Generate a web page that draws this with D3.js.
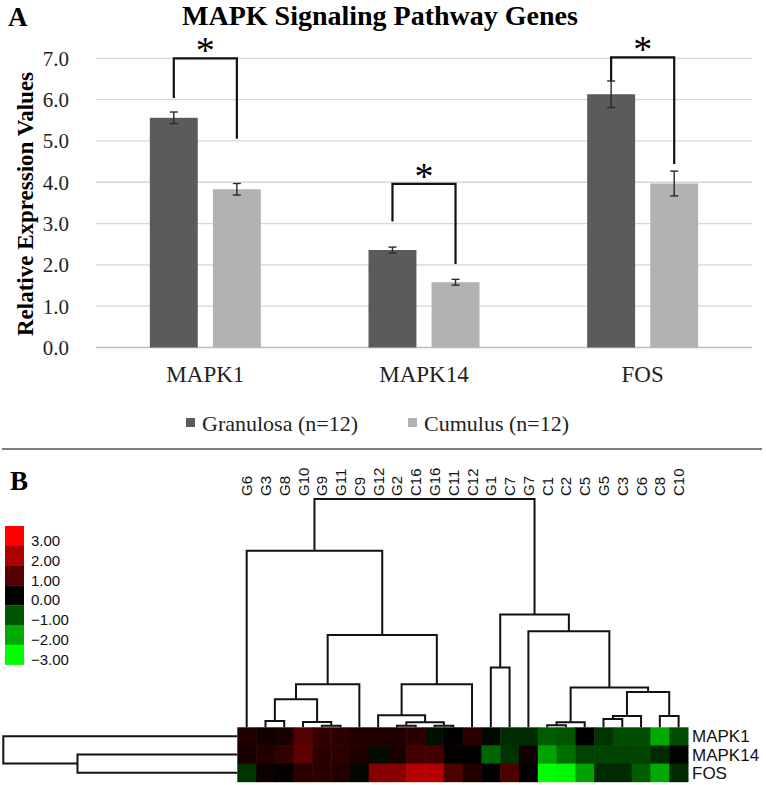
<!DOCTYPE html>
<html>
<head>
<meta charset="utf-8">
<script src="https://cdn.jsdelivr.net/npm/d3@7"></script>
<style>
  body { margin: 0; background: #fff; }
  svg { display: block; }
</style>
</head>
<body>
<svg id="chart"></svg>
<script>
// ---- panel A data ----
var genes = ["MAPK1", "MAPK14", "FOS"];
var groups = ["Granulosa (n=12)", "Cumulus (n=12)"];
var granulosa = [5.56, 2.36, 6.13];
var granulosaErr = [0.14, 0.07, 0.32];
var cumulus = [3.83, 1.58, 3.97];
var cumulusErr = [0.14, 0.07, 0.30];
var yTicks = [0, 1, 2, 3, 4, 5, 6, 7];
// significance brackets (value units)
var bracketTop = [7.0, 3.96, 7.02];
var bracketLeft = [6.04, 3.05, 6.45];
var bracketRight = [5.05, 2.02, 4.44];

// ---- panel B data ----
var samples = ["G6", "G3", "G8", "G10", "G9", "G11", "C9", "G12", "G2", "C16", "G16", "C11",
               "C12", "G1", "C7", "G7", "C1", "C2", "C5", "G5", "C3", "C6", "C8", "C10"];
var rowGenes = ["MAPK1", "MAPK14", "FOS"];
var heatMAPK1 = [0.4, 0.2, 0.3, 1.0, 0.6, 0.5, 0.4, 0.4, 0.4, 0.5, -0.2, 0.0,
                 0.5, -0.1, -0.5, -0.5, -1.1, -1.0, 0.0, -0.6, -0.9, -0.9, -2.0, -0.9];
var heatMAPK14 = [0.3, 0.4, 0.6, 1.1, 0.5, 0.5, 0.35, -0.15, 0.3, 0.8, 0.8, 0.05,
                  0.0, -1.2, -0.6, 0.2, -1.9, -1.3, -0.8, -0.8, -0.8, -0.8, -0.5, -0.05];
var heatFOS = [-0.6, 0.15, 0.05, 0.5, 0.5, 0.4, -0.1, 1.6, 1.6, 2.1, 2.1, 0.9,
               0.4, 0.0, 0.9, 0.0, -3.0, -2.9, -1.9, -0.5, -0.5, -1.1, -2.0, -0.5];
var legendValues = [3, 2, 1, 0, -1, -2, -3];
// hierarchical clustering merges: [left, right, height]; "#n" = earlier merge n
var colMerges = [
  ["G9", "G11", 0.007], ["G2", "C16", 0.007], ["G16", "C11", 0.007], ["C1", "C2", 0.009],
  ["G10", "#0", 0.023], ["#1", "#2", 0.022], ["G3", "G8", 0.028], ["#3", "C5", 0.022],
  ["G5", "C3", 0.036], ["#8", "C6", 0.05], ["C8", "C10", 0.05], ["G12", "#5", 0.053],
  ["#6", "#4", 0.123], ["#9", "#10", 0.155], ["#7", "#13", 0.174], ["#12", "C9", 0.189],
  ["#11", "C12", 0.189], ["G1", "C7", 0.262], ["#15", "#16", 0.404], ["G7", "#14", 0.421],
  ["#17", "#19", 0.494], ["G6", "#18", 0.773], ["#21", "#20", 1.0]
];
var rowMerges = [["MAPK14", "FOS", 0.683], ["MAPK1", "#0", 1.0]];

var W = 766, H = 785;
var serif = "Liberation Serif, Times New Roman, serif";
var sans = "Liberation Sans, Arial, sans-serif";

var svg = d3.select("#chart").attr("width", W).attr("height", H);
svg.append("rect").attr("width", W).attr("height", H).attr("fill", "#fff");

// ================= Panel A =================
var x0 = d3.scaleBand().domain(genes).range([96, 752]);
var x1 = d3.scaleBand().domain(groups)
  .range([x0.bandwidth() / 2 - 55.5, x0.bandwidth() / 2 + 55.5]).paddingInner(0.24);
var y = d3.scaleLinear().domain([0, 7]).range([347.5, 58.3]);

svg.append("text").attr("x", 8).attr("y", 26)
  .style("font-family", serif).style("font-weight", "bold").style("font-size", "27px")
  .text("A");
svg.append("text").attr("x", 380).attr("y", 25).attr("text-anchor", "middle")
  .style("font-family", serif).style("font-weight", "bold").style("font-size", "28px")
  .text("MAPK Signaling Pathway Genes");

// gridlines
svg.append("g").selectAll("line").data(yTicks).join("line")
  .attr("x1", 96).attr("x2", 752)
  .attr("y1", d => y(d)).attr("y2", d => y(d))
  .attr("stroke", d => d === 0 ? "#bdbdbd" : "#d6d6d6").attr("stroke-width", 1.3);

var yAxis = svg.append("g").attr("transform", "translate(72,0)")
  .call(d3.axisLeft(y).tickValues(yTicks).tickFormat(d3.format(".1f")).tickSize(0).tickPadding(3));
yAxis.select(".domain").remove();
yAxis.selectAll("text").style("font-family", serif).style("font-size", "21px").attr("fill", "#222")
  .attr("dy", "0.33em");

svg.append("text")
  .attr("transform", "translate(33,204) rotate(-90)").attr("text-anchor", "middle")
  .style("font-family", serif).style("font-weight", "bold").style("font-size", "23px")
  .text("Relative Expression Values");

var xAxis = svg.append("g").attr("transform", "translate(0,347.5)")
  .call(d3.axisBottom(x0).tickSize(0).tickPadding(18));
xAxis.select(".domain").remove();
xAxis.selectAll("text").style("font-family", serif).style("font-size", "23px").attr("fill", "#222")
  .attr("dy", "0.71em");

var barData = [];
genes.forEach(function (g, i) {
  barData.push({ gene: g, group: groups[0], v: granulosa[i], e: granulosaErr[i], c: "#5b5b5b" });
  barData.push({ gene: g, group: groups[1], v: cumulus[i], e: cumulusErr[i], c: "#b2b2b2" });
});

var bars = svg.append("g");
bars.selectAll("rect").data(barData).join("rect")
  .attr("x", d => x0(d.gene) + x1(d.group))
  .attr("width", x1.bandwidth())
  .attr("y", d => y(d.v))
  .attr("height", d => y(0) - y(d.v))
  .attr("fill", d => d.c);

// error bars
var eb = svg.append("g").attr("stroke", "#2a2a2a").attr("stroke-width", 1.4);
barData.forEach(function (d) {
  var cx = x0(d.gene) + x1(d.group) + x1.bandwidth() / 2;
  eb.append("line").attr("x1", cx).attr("x2", cx).attr("y1", y(d.v + d.e)).attr("y2", y(d.v - d.e));
  eb.append("line").attr("x1", cx - 4).attr("x2", cx + 4).attr("y1", y(d.v + d.e)).attr("y2", y(d.v + d.e));
  eb.append("line").attr("x1", cx - 4).attr("x2", cx + 4).attr("y1", y(d.v - d.e)).attr("y2", y(d.v - d.e));
});

// significance brackets
var br = svg.append("g");
genes.forEach(function (g, i) {
  var xl = x0(g) + x1(groups[0]) + x1.bandwidth() / 2;
  var xr = x0(g) + x1(groups[1]) + x1.bandwidth() / 2;
  br.append("path")
    .attr("d", "M" + xl + "," + y(bracketLeft[i]) + "V" + y(bracketTop[i]) + "H" + xr + "V" + y(bracketRight[i]))
    .attr("fill", "none").attr("stroke", "#111").attr("stroke-width", 2.2);
  br.append("text").attr("x", (xl + xr) / 2).attr("y", y(bracketTop[i]) + 5)
    .attr("text-anchor", "middle")
    .style("font-family", serif).style("font-size", "38px").text("*");
});

// legend
var leg = svg.append("g");
var legX = [186, 408];
groups.forEach(function (g, i) {
  leg.append("rect").attr("x", legX[i]).attr("y", 418).attr("width", 9).attr("height", 9)
    .attr("fill", i === 0 ? "#5b5b5b" : "#b2b2b2");
  leg.append("text").attr("x", legX[i] + 16).attr("y", 431)
    .style("font-family", serif).style("font-size", "22px").attr("fill", "#222").text(g);
});

svg.append("line").attr("x1", 2).attr("x2", 762).attr("y1", 449).attr("y2", 449)
  .attr("stroke", "#555").attr("stroke-width", 1.6);

// ================= Panel B =================
svg.append("text").attr("x", 10).attr("y", 490)
  .style("font-family", serif).style("font-weight", "bold").style("font-size", "27px")
  .text("B");

var hx = d3.scaleBand().domain(samples).range([237.3, 688]);
var hy = d3.scaleBand().domain(rowGenes).range([727.3, 781.7]);
var color = d3.scaleLinear().domain([-3, 0, 3]).range(["#00ff00", "#000000", "#ff0000"]);

var rows = [heatMAPK1, heatMAPK14, heatFOS];
var cells = [];
rowGenes.forEach(function (r, ri) {
  samples.forEach(function (s, si) { cells.push({ r: r, s: s, v: rows[ri][si] }); });
});
svg.append("g").selectAll("rect").data(cells).join("rect")
  .attr("x", d => hx(d.s)).attr("y", d => hy(d.r))
  .attr("width", hx.bandwidth() + 0.5).attr("height", hy.bandwidth() + 0.5)
  .attr("fill", d => color(d.v));

// column labels
svg.append("g").selectAll("text").data(samples).join("text")
  .attr("transform", d => "translate(" + (hx(d) + hx.bandwidth() / 2 + 5.5) + ",496) rotate(-90)")
  .style("font-family", sans).style("font-size", "15px").attr("fill", "#111")
  .text(d => d);

// row labels
svg.append("g").selectAll("text").data(rowGenes).join("text")
  .attr("x", 692).attr("y", d => hy(d) + hy.bandwidth() / 2 + 6)
  .style("font-family", sans).style("font-size", "17px").attr("fill", "#111")
  .text(d => d);

// column dendrogram
var hCol = d3.scaleLinear().domain([0, 1]).range([727.3, 499]);
var colNodes = [];
function colPos(k) {
  if (k[0] === "#") return colNodes[+k.slice(1)];
  return { x: hx(k) + hx.bandwidth() / 2, y: hCol(0) };
}
var dend = svg.append("g").attr("fill", "none").attr("stroke", "#111").attr("stroke-width", 2);
colMerges.forEach(function (m) {
  var a = colPos(m[0]), b = colPos(m[1]);
  var n = { x: (a.x + b.x) / 2, y: hCol(m[2]) };
  colNodes.push(n);
  dend.append("path").attr("d", "M" + a.x + "," + a.y + "V" + n.y + "H" + b.x + "V" + b.y);
});

// row dendrogram
var hRow = d3.scaleLinear().domain([0, 1]).range([237.3, 3.3]);
var rowNodes = [];
function rowPos(k) {
  if (k[0] === "#") return rowNodes[+k.slice(1)];
  return { x: hRow(0), y: hy(k) + hy.bandwidth() / 2 };
}
rowMerges.forEach(function (m) {
  var a = rowPos(m[0]), b = rowPos(m[1]);
  var n = { x: hRow(m[2]), y: (a.y + b.y) / 2 };
  rowNodes.push(n);
  dend.append("path").attr("d", "M" + a.x + "," + a.y + "H" + n.x + "V" + b.y + "H" + b.x);
});

// colour key
var key = svg.append("g");
var ky = d3.scaleBand().domain(legendValues).range([526, 664.6]);
key.selectAll("rect").data(legendValues).join("rect")
  .attr("x", 5).attr("y", d => ky(d)).attr("width", 19).attr("height", ky.bandwidth() + 0.3)
  .attr("fill", d => color(d));
key.selectAll("text").data(legendValues).join("text")
  .attr("x", 31).attr("y", d => ky(d) + ky.bandwidth() / 2 + 10)
  .style("font-family", sans).style("font-size", "15px").attr("fill", "#111")
  .text(d => d3.format(".2f")(d));
</script>
</body>
</html>
